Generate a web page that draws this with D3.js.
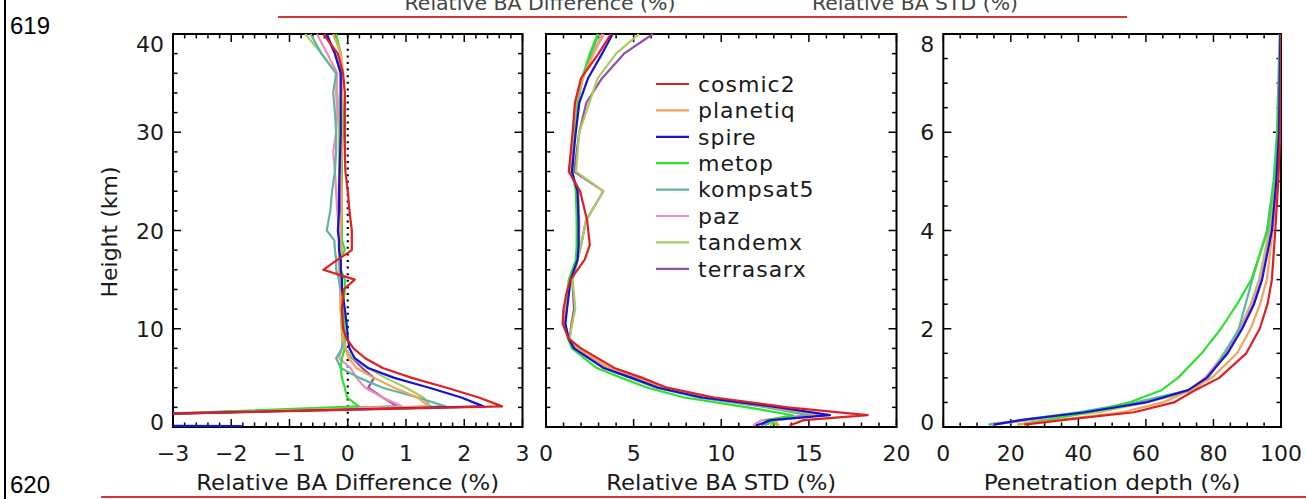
<!DOCTYPE html>
<html><head><meta charset="utf-8">
<script src="https://cdn.jsdelivr.net/npm/d3@7"></script>
<style>body{margin:0;background:#fff}svg{display:block}</style>
</head><body>
<svg id="c" width="1306" height="499"></svg>
<script>
// ---------------- DATA ----------------
const satellites = ["cosmic2","planetiq","spire","metop","kompsat5","paz","tandemx","terrasarx"];
const satColors  = ["#dc2024","#f2a35c","#1414d4","#2fe02f","#5eb6a2","#f08cba","#a8cc5e","#9050aa"];

// Panel 1: relative BA difference (%) vs height (km)
const heightsDiff = [0.1,0.3,1.3,2.1,3,4,5,6,7,8,9,10,12,14,15,16,17,18,19,20,22,24,26,28,30,32,34,36,38,40];
const diffCosmic2   = [null,null,-3.4,2.65,2.25,1.7,1.1,0.6,0.3,0.1,-0.02,-0.08,-0.1,-0.07,0.12,-0.42,-0.18,0.07,0.07,0.07,0.03,0.0,-0.04,-0.05,-0.05,-0.05,-0.05,-0.08,-0.17,-0.42];
const diffPlanetiq  = [null,null,-3.4,1.4,1.2,0.8,0.45,0.15,0.02,-0.04,-0.08,-0.1,-0.12,-0.12,-0.1,-0.15,-0.12,-0.1,-0.12,-0.12,-0.1,-0.1,-0.12,-0.1,-0.1,-0.1,-0.1,-0.08,-0.12,-0.25];
const diffSpire     = [-1.8,-40,-3.4,2.33,1.95,1.4,0.8,0.35,0.12,0.03,0.0,-0.01,-0.05,-0.1,-0.1,-0.12,-0.12,-0.15,-0.15,-0.17,-0.15,-0.15,-0.14,-0.13,-0.12,-0.12,-0.12,-0.12,-0.22,-0.36];
const diffMetop     = [null,null,-3.4,0.19,-0.01,-0.05,-0.1,-0.12,-0.1,-0.05,-0.05,-0.05,-0.08,-0.05,-0.05,-0.12,-0.15,-0.05,-0.1,-0.1,-0.1,-0.1,-0.1,-0.1,-0.08,-0.08,-0.1,-0.1,-0.12,-0.2];
const diffKompsat5  = [null,null,-3.4,1.68,1.2,0.6,0.2,-0.12,-0.2,-0.1,-0.08,-0.1,-0.12,-0.13,-0.15,-0.2,-0.2,-0.22,-0.23,-0.36,-0.3,-0.27,-0.22,-0.2,-0.2,-0.22,-0.25,-0.2,-0.45,-0.64];
const diffPaz       = [null,null,-3.4,0.93,0.6,0.3,0.15,0.05,-0.15,-0.1,-0.08,-0.1,-0.1,-0.12,-0.12,-0.15,-0.15,-0.15,-0.15,-0.15,-0.18,-0.2,-0.22,-0.25,-0.2,-0.18,-0.2,-0.18,-0.35,-0.53];
const diffTandemx   = [null,null,-3.4,1.42,1.3,1.0,0.65,0.35,0.1,-0.05,-0.1,-0.1,-0.12,-0.1,-0.1,-0.15,-0.12,-0.12,-0.12,-0.12,-0.15,-0.15,-0.15,-0.15,-0.15,-0.15,-0.18,-0.2,-0.45,-0.73];
const diffTerrasarx = [null,null,-3.4,0.85,0.6,0.35,0.45,0.25,0.08,-0.05,-0.08,-0.08,-0.1,-0.1,-0.1,-0.12,-0.12,-0.12,-0.13,-0.13,-0.13,-0.13,-0.13,-0.13,-0.13,-0.12,-0.12,-0.12,-0.22,-0.38];

// Panel 2: relative BA STD (%) vs height (km)
const heightsStd = [0.15,0.7,1.2,2,3,4,5,6,8,9,10.5,12,13.5,15,17,18.5,21,24,26,30,33,35.5,38,40];
const stdCosmic2   = [13.9,14.7,18.35,13.8,9.6,6.9,5.5,3.9,2.0,1.29,0.95,1.0,1.15,1.4,2.2,2.5,2.35,1.95,1.3,1.52,1.65,2.0,3.0,3.7];
const stdPlanetiq  = [13.3,13.0,15.8,13.0,9.2,6.7,5.2,3.6,1.8,1.3,1.0,1.1,1.3,1.4,1.8,1.9,1.9,1.85,1.35,1.55,1.7,2.1,2.7,3.2];
const stdSpire     = [12.0,12.8,16.2,13.3,8.9,6.4,4.9,3.3,1.6,1.29,1.1,1.2,1.3,1.4,1.8,1.86,1.86,1.8,1.48,1.7,1.9,2.4,3.2,3.8];
const stdMetop     = [13.3,12.6,14.1,11.5,7.9,5.8,4.3,2.9,1.48,1.25,1.1,1.15,1.2,1.3,1.7,1.75,1.75,1.7,1.5,1.6,1.8,2.05,2.5,2.95];
const stdKompsat5  = [12.5,13.0,15.0,12.6,8.7,6.3,4.8,3.3,1.6,1.3,1.1,1.15,1.25,1.35,1.75,1.8,1.8,1.75,1.45,1.6,1.8,2.1,2.6,3.0];
const stdPaz       = [11.8,12.3,15.0,12.8,8.8,6.4,4.9,3.4,1.7,1.3,1.05,1.1,1.25,1.35,1.75,1.8,1.8,1.75,1.4,1.55,1.75,2.05,2.7,3.3];
const stdTandemx   = [12.8,13.2,15.5,12.9,9.0,6.6,5.0,3.5,1.7,1.35,1.5,1.67,1.6,1.5,1.8,2.0,2.28,3.27,1.71,1.9,2.47,2.95,4.0,5.3];
const stdTerrasarx = [12.3,12.8,15.2,12.9,8.9,6.5,5.0,3.5,1.7,1.35,1.45,1.6,1.55,1.5,1.8,2.0,2.28,3.27,1.6,1.9,2.3,3.2,4.45,6.1];

// Panel 3: penetration depth (%) vs height (km)
const heightsPen = [0.05,0.15,0.3,0.5,0.75,1.0,1.5,2.0,2.5,3.0,4.0,5.0,6.0,8.0];
const penCosmic2   = [24,36.5,56.5,68.3,74.6,81.7,89.7,93.7,96,97.3,98.3,99.2,99.8,100];
const penPlanetiq  = [22,35,53,65,73,79.5,87,91,93.8,95.8,97.5,98.8,99.5,100];
const penSpire     = [15,24,42,60,72.5,78,84.2,88.5,92,94.4,97.3,98.6,99.4,99.8];
const penMetop     = [22,31.6,43,55,64.6,69.5,76.5,82.2,87,91.2,96.1,97.9,99,100];
const penKompsat5  = [13.5,24,40,57,73,78.5,83.3,87.5,89.5,91.5,95.8,97.8,98.8,99.6];
const penPaz       = [15,25,42,59,73,77.5,83.5,88,91.5,94,97,98.5,99.3,99.8];
const penTandemx   = [13.3,27,46,60,74.5,78,83,87.8,91,93.5,96.5,98.3,99.2,99.8];
const penTerrasarx = [14.5,25,43,59,73,78,83.8,88.2,91.7,94.2,97.1,98.6,99.3,99.8];

// Axis ticks
const diffTicks = [-3,-2,-1,0,1,2,3];
const stdTicks = [0,5,10,15,20];
const penTicks = [0,20,40,60,80,100];
const heightTicks = [0,10,20,30,40];
const penHeightTicks = [0,2,4,6,8];

const xTitles = ["Relative BA Difference (%)","Relative BA STD (%)","Penetration depth (%)"];
const yTitle = "Height (km)";

// ---------------- DRAW ----------------
const svg = d3.select("#c");
const FONT = "DejaVu Sans";
const TOP = 34, BOT = 427;

const panels = [
  {x0:173, x1:522.5, xd:[-3,3], xt:diffTicks, xm:0.2, yd:[0,40], yt:heightTicks, ym:2, ylab:true,
   h:heightsDiff, vals:[diffCosmic2,diffPlanetiq,diffSpire,diffMetop,diffKompsat5,diffPaz,diffTandemx,diffTerrasarx], tw:303},
  {x0:546, x1:896.5, xd:[0,20], xt:stdTicks, xm:1, yd:[0,40], yt:heightTicks, ym:2, ylab:false,
   h:heightsStd, vals:[stdCosmic2,stdPlanetiq,stdSpire,stdMetop,stdKompsat5,stdPaz,stdTandemx,stdTerrasarx], tw:230},
  {x0:943.3, x1:1281, xd:[0,100], xt:penTicks, xm:5, yd:[0,8], yt:penHeightTicks, ym:0.5, ylab:true,
   h:heightsPen, vals:[penCosmic2,penPlanetiq,penSpire,penMetop,penKompsat5,penPaz,penTandemx,penTerrasarx], tw:257}
];

const fmt = d3.format("d");
const drawOrder = [7,6,5,4,3,1,2,0];

panels.forEach((p, pi) => {
  const x = d3.scaleLinear().domain(p.xd).range([p.x0, p.x1]);
  const y = d3.scaleLinear().domain(p.yd).range([BOT, TOP]);
  const g = svg.append("g");
  const cid = "clip" + pi;
  svg.append("clipPath").attr("id", cid).append("rect")
     .attr("x", p.x0).attr("y", TOP - 1).attr("width", p.x1 - p.x0).attr("height", BOT - TOP + 2);

  // axes (box with inward ticks on all sides)
  const xMinor = d3.range(p.xd[0], p.xd[1] + 1e-9, p.xm);
  const yMinor = d3.range(p.yd[0], p.yd[1] + 1e-9, p.ym);
  const ax = g.append("g").attr("stroke", "#000").attr("fill", "none");
  xMinor.forEach(v => {
    const major = p.xt.some(t => Math.abs(t - v) < 1e-6);
    const L = major ? 8 : 4.5;
    ax.append("line").attr("x1", x(v)).attr("x2", x(v)).attr("y1", BOT).attr("y2", BOT - L).attr("stroke-width", 1.5);
    ax.append("line").attr("x1", x(v)).attr("x2", x(v)).attr("y1", TOP).attr("y2", TOP + L).attr("stroke-width", 1.5);
  });
  yMinor.forEach(v => {
    const major = p.yt.some(t => Math.abs(t - v) < 1e-6);
    const L = major ? 8 : 4.5;
    ax.append("line").attr("y1", y(v)).attr("y2", y(v)).attr("x1", p.x0).attr("x2", p.x0 + L).attr("stroke-width", 1.5);
    ax.append("line").attr("y1", y(v)).attr("y2", y(v)).attr("x1", p.x1).attr("x2", p.x1 - L).attr("stroke-width", 1.5);
  });
  ax.append("rect").attr("x", p.x0).attr("y", TOP).attr("width", p.x1 - p.x0).attr("height", BOT - TOP)
    .attr("stroke-width", 2);

  const lines = g.append("g").attr("clip-path", `url(#${cid})`);
  if (pi === 0) {
    lines.append("line").attr("x1", x(0)).attr("x2", x(0)).attr("y1", y(0)).attr("y2", y(40))
      .attr("stroke", "#000").attr("stroke-width", 2.2).attr("stroke-dasharray", "2 4.6");
  }
  drawOrder.forEach(si => {
    const pts = p.h.map((hh, i) => ({h: hh, v: p.vals[si][i]}));
    const line = d3.line().defined(d => d.v !== null).x(d => x(d.v)).y(d => y(d.h));
    lines.append("path").attr("d", line(pts)).attr("fill", "none")
      .attr("stroke", satColors[si]).attr("stroke-width", 2.2).attr("stroke-linejoin", "round");
  });

  // tick labels
  const lab = g.append("g").attr("font-family", FONT).attr("font-size", 22).attr("fill", "#1a1a1a");
  p.xt.forEach(t => {
    lab.append("text").attr("x", x(t)).attr("y", 461).attr("text-anchor", "middle").text(fmt(t));
  });
  if (p.ylab) {
    p.yt.forEach((t, i) => {
      let cy = y(t);
      if (i === 0) cy -= 5;
      if (i === p.yt.length - 1) cy += 10;
      lab.append("text").attr("x", p.x0 - 9).attr("y", cy + 8).attr("text-anchor", "end").text(fmt(t));
    });
  }
  lab.append("text").attr("x", (p.x0 + p.x1) / 2).attr("y", 490).attr("text-anchor", "middle")
    .attr("textLength", p.tw).attr("lengthAdjust", "spacingAndGlyphs").text(xTitles[pi]);
});

// y title
svg.append("text").attr("transform", "translate(117,232) rotate(-90)").attr("text-anchor", "middle")
  .attr("font-family", FONT).attr("font-size", 22).attr("fill", "#1a1a1a").text(yTitle);

// legend
const leg = svg.append("g").attr("font-family", FONT).attr("font-size", 22).attr("fill", "#1a1a1a");
satellites.forEach((s, i) => {
  const ly = 84 + i * 26.4;
  leg.append("line").attr("x1", 656).attr("x2", 689).attr("y1", ly).attr("y2", ly)
    .attr("stroke", satColors[i]).attr("stroke-width", 2.2);
  leg.append("text").attr("x", 698).attr("y", ly + 7.7).attr("letter-spacing", 1).text(s);
});

// page decorations (document context)
svg.append("line").attr("x1", 5).attr("x2", 5).attr("y1", 0).attr("y2", 499).attr("stroke", "#000").attr("stroke-width", 2);
svg.append("text").attr("x", 10).attr("y", 34).attr("font-family", "Liberation Sans").attr("font-size", 24).text("619");
svg.append("text").attr("x", 10).attr("y", 493).attr("font-family", "Liberation Sans").attr("font-size", 24).text("620");
svg.append("line").attr("x1", 278).attr("x2", 1127).attr("y1", 17).attr("y2", 17).attr("stroke", "#cc3a3a").attr("stroke-width", 2);
svg.append("line").attr("x1", 101).attr("x2", 1306).attr("y1", 497).attr("y2", 497).attr("stroke", "#cc3a3a").attr("stroke-width", 2);
const topText = svg.append("g").attr("font-family", FONT).attr("font-size", 20).attr("fill", "#444");
topText.append("text").attr("x", 540).attr("y", 10).attr("text-anchor", "middle").attr("textLength", 271)
  .attr("lengthAdjust", "spacingAndGlyphs").text("Relative BA Difference (%)");
topText.append("text").attr("x", 915).attr("y", 10).attr("text-anchor", "middle").attr("textLength", 206)
  .attr("lengthAdjust", "spacingAndGlyphs").text("Relative BA STD (%)");
</script>
</body></html>
